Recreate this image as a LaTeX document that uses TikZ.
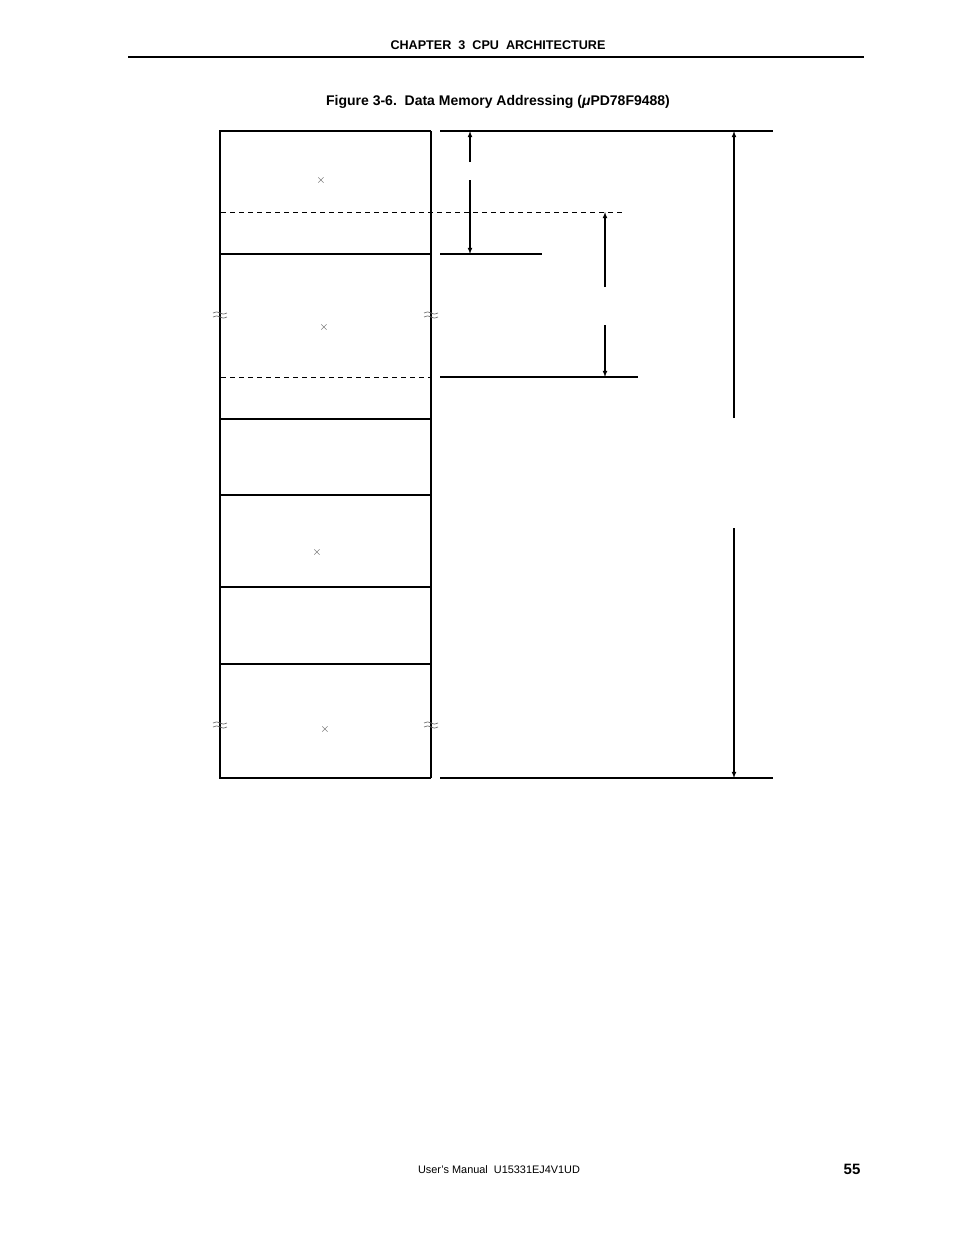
\documentclass[tikz,border=0pt]{standalone}
\usepackage{fontspec}
\setmainfont{Liberation Sans}
\usepackage{tikz}
\usetikzlibrary{arrows}
\tikzstyle{heading} = [font=\bfseries\fontsize{12.6}{14}\selectfont, inner sep=0pt]
\tikzstyle{caption} = [font=\bfseries\fontsize{14}{16}\selectfont, inner sep=0pt]
\tikzstyle{footer} = [font=\fontsize{10.9}{12}\selectfont, inner sep=0pt]
\tikzstyle{pagenum} = [font=\bfseries\fontsize{15}{17}\selectfont, inner sep=0pt]
\tikzstyle{cross} = [text=black!70, font=\fontsize{12}{12}\selectfont, inner sep=0pt]
\tikzstyle{arrow} = [->, >=latex, line width=1.1pt]
\tikzstyle{thin} = [line width=1.2pt]
\tikzstyle{heavy} = [line width=2.4pt]
\tikzstyle{dashline} = [dash pattern=on 5pt off 4pt, line width=1pt]
\tikzstyle{breakmark} = [black!55, line width=0.7pt]

\begin{document}
\begin{tikzpicture}[x=1pt, y=-1pt]

\fill[white] (0,0) rectangle (954,1235);
\useasboundingbox (0,0) rectangle (954,1235);

% page head and foot
\node (chapter) [heading] at (498,45) {CHAPTER\ \ 3\ \ CPU\ \ ARCHITECTURE};
\coordinate (ruleL) at (128,57);
\coordinate (ruleR) at (864,57);
\draw [line width=1.8pt] (ruleL) -- (ruleR);
\node (title) [caption] at (498,102) {Figure 3-6.\ \ Data Memory Addressing ({\itshape μ}PD78F9488)};
\node (manual) [footer] at (499,1170) {User's Manual\ \ U15331EJ4V1UD};
\node (page) [pagenum] at (852,1169) {55};

% memory map
\coordinate (topL) at (220,131);
\coordinate (topR) at (431,131);
\coordinate (botL) at (220,778);
\coordinate (botR) at (431,778);
\draw [heavy] (topR) -- (topL) -- (botL) -- (botR);
\draw [thin] (topR) -- (botR);
\draw [thin] (220,254) -- (431,254);
\draw [thin] (220,419) -- (431,419);
\draw [thin] (220,495) -- (431,495);
\draw [thin] (220,587) -- (431,587);
\draw [thin] (220,664) -- (431,664);
\draw [dashline] (221,212) -- (624,212);
\draw [dashline] (221,377) -- (431,377);

\node (x1) [cross] at (321,180) {$\times$};
\node (x2) [cross] at (324,327) {$\times$};
\node (x3) [cross] at (317,552) {$\times$};
\node (x4) [cross] at (325,729) {$\times$};

% break marks
\foreach \bx/\by in {220/315, 431/315, 220/725, 431/725} {
  \draw [breakmark] (\bx-7,\by-2) .. controls (\bx-2,\by-6) and (\bx+2,\by+2) .. (\bx+7,\by-2);
  \draw [breakmark] (\bx-7,\by+2) .. controls (\bx-2,\by-2) and (\bx+2,\by+6) .. (\bx+7,\by+2);
}

% extension lines
\draw [thin] (440,131) -- (773,131);
\draw [thin] (440,254) -- (542,254);
\draw [thin] (440,377) -- (638,377);
\draw [thin] (440,778) -- (773,778);

% dimension arrows
\coordinate (a1top) at (470,131);
\coordinate (a1gapA) at (470,162);
\coordinate (a1gapB) at (470,180);
\coordinate (a1bot) at (470,254);
\draw [arrow] (a1gapA) -- (a1top);
\draw [arrow] (a1gapB) -- (a1bot);

\coordinate (a2top) at (605,212);
\coordinate (a2gapA) at (605,287);
\coordinate (a2gapB) at (605,325);
\coordinate (a2bot) at (605,377);
\draw [arrow] (a2gapA) -- (a2top);
\draw [arrow] (a2gapB) -- (a2bot);

\coordinate (a3top) at (734,131);
\coordinate (a3gapA) at (734,418);
\coordinate (a3gapB) at (734,528);
\coordinate (a3bot) at (734,778);
\draw [arrow] (a3gapA) -- (a3top);
\draw [arrow] (a3gapB) -- (a3bot);

\end{tikzpicture}
\end{document}
